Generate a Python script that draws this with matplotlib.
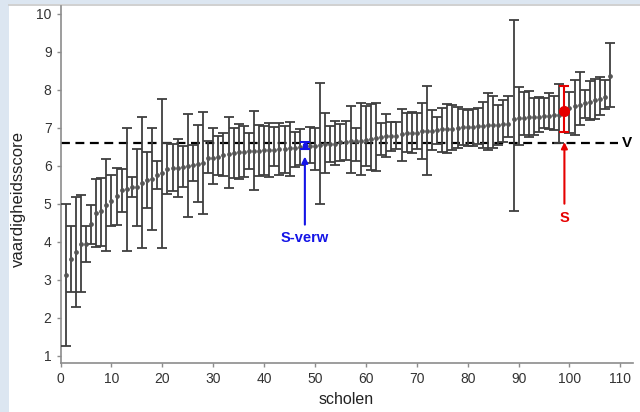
import matplotlib
matplotlib.use("Agg")
import matplotlib.pyplot as plt
from matplotlib.patches import Rectangle
from matplotlib.lines import Line2D

plt.rcParams['font.family'] = ['Liberation Sans', 'DejaVu Sans']

# school means (sorted) with lower/upper bounds of the interval
means = [3.12, 3.54, 3.72, 3.95, 3.95, 4.46, 4.75, 4.80, 4.96, 5.08,
         5.21, 5.36, 5.39, 5.43, 5.44, 5.55, 5.62, 5.65, 5.75, 5.80,
         5.92, 5.93, 5.94, 5.96, 5.98, 6.02, 6.04, 6.06, 6.20, 6.21,
         6.23, 6.27, 6.32, 6.34, 6.36, 6.37, 6.38, 6.38, 6.39, 6.40,
         6.41, 6.42, 6.44, 6.45, 6.46, 6.47, 6.48, 6.52, 6.52, 6.53,
         6.55, 6.56, 6.57, 6.58, 6.61, 6.62, 6.64, 6.65, 6.66, 6.68,
         6.70, 6.72, 6.75, 6.78, 6.78, 6.79, 6.83, 6.85, 6.86, 6.87,
         6.90, 6.91, 6.92, 6.95, 6.96, 6.96, 6.97, 6.98, 7.01, 7.02,
         7.03, 7.04, 7.05, 7.06, 7.07, 7.08, 7.09, 7.10, 7.24, 7.25,
         7.26, 7.27, 7.28, 7.29, 7.30, 7.31, 7.32, 7.34, 7.45, 7.52,
         7.56, 7.60, 7.64, 7.68, 7.72, 7.76, 7.80, 8.36]
lower = [1.25, 2.67, 2.28, 2.67, 3.47, 3.93, 3.87, 3.89, 3.76, 4.41,
         4.43, 4.79, 3.76, 5.17, 4.41, 3.83, 4.89, 4.30, 5.38, 3.83,
         5.25, 5.33, 5.18, 5.45, 4.66, 5.61, 5.05, 4.72, 5.80, 5.52,
         5.75, 5.73, 5.40, 5.68, 5.66, 5.71, 5.90, 5.36, 5.73, 5.76,
         5.70, 5.99, 5.75, 5.80, 5.73, 5.97, 6.02, 6.44, 6.06, 5.89,
         4.98, 5.82, 6.09, 6.03, 6.13, 6.15, 5.80, 6.12, 5.75, 5.99,
         5.89, 5.86, 6.28, 6.22, 6.39, 6.44, 6.13, 6.36, 6.34, 6.44,
         6.18, 5.75, 6.41, 6.57, 6.37, 6.34, 6.41, 6.47, 6.54, 6.52,
         6.53, 6.57, 6.46, 6.40, 6.47, 6.54, 6.63, 6.76, 4.81, 6.54,
         6.80, 6.76, 6.82, 6.89, 6.98, 6.96, 6.93, 6.60, 6.89, 6.85,
         6.82, 7.07, 7.26, 7.20, 7.22, 7.33, 7.49, 7.55]
upper = [5.00, 4.41, 5.17, 5.24, 4.41, 4.97, 5.64, 5.68, 6.17, 5.75,
         5.95, 5.90, 7.00, 5.69, 6.45, 7.29, 6.36, 6.98, 6.13, 7.76,
         6.59, 6.56, 6.70, 6.52, 7.35, 6.54, 7.07, 7.42, 6.65, 6.98,
         6.78, 6.87, 7.29, 6.98, 7.09, 7.05, 6.87, 7.44, 7.07, 7.05,
         7.11, 7.03, 7.13, 7.04, 7.16, 6.89, 6.96, 6.62, 7.03, 7.00,
         8.18, 7.38, 7.05, 7.18, 7.10, 7.17, 7.58, 7.00, 7.64, 7.57,
         7.61, 7.64, 7.13, 7.36, 7.16, 7.16, 7.48, 7.38, 7.40, 7.38,
         7.64, 8.10, 7.47, 7.27, 7.51, 7.61, 7.59, 7.55, 7.48, 7.47,
         7.48, 7.51, 7.67, 7.90, 7.84, 7.59, 7.72, 7.84, 9.83, 8.07,
         7.94, 7.96, 7.78, 7.81, 7.78, 7.90, 7.84, 8.16, 8.09, 7.94,
         8.25, 8.47, 8.00, 8.22, 8.29, 8.34, 8.25, 9.23]
schools = list(range(1, len(means) + 1))

s_verw_school = 48   # expected score of school S
s_school = 99        # school S
v_level = 6.6        # reference level V

xticks = [0, 10, 20, 30, 40, 50, 60, 70, 80, 90, 100, 110]
yticks = [1, 2, 3, 4, 5, 6, 7, 8, 9, 10]

gray = '#3f3f3f'
blue = '#1414e6'
red = '#e60000'
frame_blue = '#dce6f1'

fig = plt.figure(figsize=(6.4, 4.12), dpi=100, facecolor='white')
fig.patches.append(Rectangle((0, 0), 9 / 640, 1, transform=fig.transFigure,
                             facecolor=frame_blue, edgecolor='none', zorder=-5))
fig.patches.append(Rectangle((0, 1 - 4 / 412), 1, 4 / 412, transform=fig.transFigure,
                             facecolor=frame_blue, edgecolor='none', zorder=-5))
fig.lines.append(Line2D([9 / 640, 1], [1 - 4.5 / 412, 1 - 4.5 / 412], transform=fig.transFigure,
                        color='#c8c8c8', lw=1.2, zorder=-4))

ax = fig.add_axes([60.6 / 640, 49 / 412, 572 / 640, 357 / 412])
ax.set_facecolor('none')

gx, gm, glo, ghi = [], [], [], []
for s, m, lo, hi in zip(schools, means, lower, upper):
    if s in (s_verw_school, s_school):
        continue
    gx.append(s); gm.append(m); glo.append(m - lo); ghi.append(hi - m)

ax.errorbar(gx, gm, yerr=[glo, ghi], fmt='o', ms=2.4, color='#555555', mec='#555555',
            ecolor=gray, elinewidth=1.3, capsize=3.4, capthick=1.3, zorder=3)

b = s_verw_school - 1
ax.errorbar([s_verw_school], [means[b]], yerr=[[means[b] - lower[b]], [upper[b] - means[b]]],
            fmt='s', ms=3.5, color=blue, ecolor=blue, elinewidth=2.5, capsize=3.4, capthick=1.5, zorder=4)
r = s_school - 1
ax.errorbar([s_school], [means[r]], yerr=[[means[r] - lower[r]], [upper[r] - means[r]]],
            fmt='o', ms=7, color=red, ecolor=red, elinewidth=1.5, capsize=3.4, capthick=1.5, zorder=4)

ax.plot([0, 109.5], [v_level, v_level], color='black', lw=1.6, dashes=(4, 2.5), zorder=2)
ax.text(111.2, v_level, 'V', fontsize=11, fontweight='bold', color='black', ha='center', va='center')

ax.annotate('', xy=(s_verw_school, 6.24), xytext=(s_verw_school, 4.45),
            arrowprops=dict(arrowstyle='-|>', color=blue, lw=1.5, mutation_scale=9, shrinkA=0, shrinkB=0))
ax.text(s_verw_school, 4.1, 'S-verw', fontsize=10.5, fontweight='bold', color=blue, ha='center', va='center')
ax.annotate('', xy=(s_school, 6.62), xytext=(s_school, 5.0),
            arrowprops=dict(arrowstyle='-|>', color=red, lw=1.5, mutation_scale=9, shrinkA=0, shrinkB=0))
ax.text(s_school, 4.62, 'S', fontsize=10.5, fontweight='bold', color=red, ha='center', va='center')

ax.set_xlim(0, 112.4)
ax.set_ylim(0.81, 10.2)
ax.set_xticks(xticks)
ax.set_yticks(yticks)
for sp in ('top', 'right'):
    ax.spines[sp].set_visible(False)
for sp in ('left', 'bottom'):
    ax.spines[sp].set_color('#8c8c8c')
    ax.spines[sp].set_linewidth(1.2)
ax.tick_params(axis='both', colors='#8c8c8c', length=3, width=1, labelsize=10, labelcolor='#333333')
ax.set_xlabel('scholen', fontsize=11.5, color='#222222', labelpad=4)
ax.set_ylabel('vaardigheidsscore', fontsize=12, color='#222222')
ax.yaxis.set_label_coords(-0.06, 0.46)

fig.savefig('out.png', dpi=100, facecolor=fig.get_facecolor())
